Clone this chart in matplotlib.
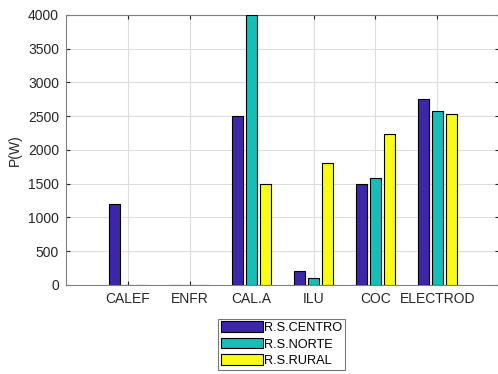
import numpy as np
import matplotlib.pyplot as plt

plt.rcParams['font.family'] = ['Liberation Sans', 'DejaVu Sans']

# Potencia por uso final y zona
usos = ['CALEF', 'ENFR', 'CAL.A', 'ILU', 'COC', 'ELECTROD']
centro = [1200, 0, 2500, 200, 1500, 2750]
norte = [0, 0, 4000, 100, 1580, 2570]
rural = [0, 0, 1500, 1800, 2230, 2530]

series = [('R.S.CENTRO', centro, '#3E26A8'),
          ('R.S.NORTE', norte, '#17BEB8'),
          ('R.S.RURAL', rural, '#F9FB15')]

fig = plt.figure(figsize=(4.98, 3.74), dpi=100)
ax = fig.add_axes([0.1325, 0.238, 0.87, 0.722])

x = np.arange(1, len(usos) + 1)
paso = 0.222
ancho = 0.18
for k, (nombre, vals, color) in enumerate(series):
    ax.bar(x + (k - 1) * paso, vals, width=ancho, color=color,
           edgecolor='black', linewidth=0.8, label=nombre, zorder=3)

ax.set_xlim(0, 7)
ax.set_ylim(0, 4000)
ax.set_xticks(x)
ax.set_xticklabels(usos)
ax.set_yticks(np.arange(0, 4001, 500))
ax.set_ylabel('P(W)', fontsize=10, color='#262626')
ax.grid(True, color='#dddddd', linewidth=0.8, zorder=0)
ax.tick_params(direction='in', top=True, right=True, labelsize=10,
               colors='#262626', length=3, pad=5)
for s in ax.spines.values():
    s.set_color('#808080')

leg = ax.legend(loc='upper center', bbox_to_anchor=(0.498, -0.125),
                fontsize=9.2, frameon=True, fancybox=False,
                handlelength=3.3, handleheight=0.9, handletextpad=0.1,
                labelspacing=0.3, borderpad=0.2, borderaxespad=0)
leg.get_frame().set_edgecolor('#555555')
leg.get_frame().set_linewidth(0.8)

fig.savefig('out.png', dpi=100)
